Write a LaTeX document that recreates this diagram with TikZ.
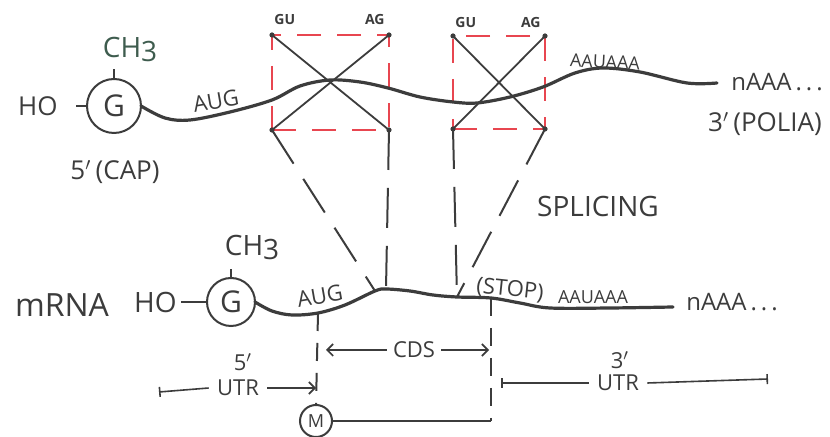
\documentclass[tikz,border=0pt]{standalone}
\usepackage{fontspec}
\setmainfont{Open Sans}
\usepackage{xcolor}
\usetikzlibrary{arrows.meta, positioning}

\definecolor{ink}{HTML}{3C3C3C}
\definecolor{cutred}{HTML}{E84650}
\definecolor{methyl}{HTML}{3E5C4E}

\begin{document}
\begin{tikzpicture}[
  x=0.5pt, y=-0.5pt,
  every node/.style={font=\fontsize{13}{15}\selectfont, text=ink, inner sep=1pt},
  lblbig/.style={font=\fontsize{14}{16}\selectfont},
  lblmid/.style={font=\fontsize{11}{13}\selectfont},
  lblsmall/.style={font=\fontsize{9}{11}\selectfont},
  lblwee/.style={font=\bfseries\fontsize{7}{9}\selectfont},
  gcirc/.style={draw=ink, circle, line width=1pt, inner sep=0pt, outer sep=0pt,
                font=\fontsize{15}{17}\selectfont},
  strand/.style={draw=ink, line width=1.6pt, line cap=round},
  tickline/.style={draw=ink, line width=1pt},
  splicebox/.style={draw=cutred, line width=1pt, dash pattern=on 12pt off 8pt,
                    rectangle, inner sep=0pt, outer sep=0pt},
  xline/.style={draw=ink, line width=0.9pt},
  link/.style={draw=ink, line width=1pt, dash pattern=on 20pt off 9pt},
  guide/.style={draw=ink, line width=1pt, dash pattern=on 9pt off 6pt},
  dimline/.style={draw=ink, line width=0.8pt},
  arr/.style={-{Straight Barb[length=3pt]}},
]
\fill[white] (0,0) rectangle (830,437);
\useasboundingbox (0,0) rectangle (830,437);

% pre-mRNA
\node[gcirc, minimum size=27pt] (gtop) at (114,106) {G};
\node[left=13.5pt of gtop] (hotop) {HO};
\node[lblbig, text=methyl] (ch3top) at (130,50) {CH\raisebox{-2pt}{3}};
\node (captop) at (115,172) {5$'$\,(CAP)};
\node[lblmid, rotate=10] (augtop) at (216,101) {AUG};

\node[splicebox, minimum width=58.5pt, minimum height=47.5pt] (intr1) at (330.5,82.5) {};
\node[splicebox, minimum width=46pt, minimum height=46.5pt] (intr2) at (499,82.5) {};
\node[lblwee, above right=4pt and 0pt of intr1.north west] (gu1) {GU};
\node[lblwee, above left=4pt and 1pt of intr1.north east] (ag1) {AG};
\node[lblwee, above right=3pt and 0pt of intr2.north west] (gu2) {GU};
\node[lblwee, above left=3pt and 1pt of intr2.north east] (ag2) {AG};

\node[lblsmall, rotate=-3] (polytop) at (605,62) {AAUAAA};
\node[font=\fontsize{12}{14}\selectfont] (naaatop) at (777,82) {nAAA\,.\,.\,.};
\node (polya) at (765,124) {3$'$\,(POLIA)};
\node[lblbig] (splicing) at (598,207) {SPLICING};

% mature mRNA
\node[font=\fontsize{16}{18}\selectfont] (mrna) at (62,305) {mRNA};
\node[gcirc, minimum size=24pt] (gbot) at (231,302) {G};
\node[lblbig, left=14pt of gbot] (hobot) {HO};
\node[lblbig] (ch3bot) at (252,248) {CH\raisebox{-2pt}{3}};
\node[lblmid, rotate=10] (augbot) at (320,296) {AUG};
\node[lblmid, rotate=-6] (stop) at (510,290) {(STOP)};
\node[lblsmall] (polybot) at (593,297) {AAUAAA};
\node[font=\fontsize{12}{14}\selectfont] (naaabot) at (732,302) {nAAA\,.\,.\,.};
\node[gcirc, minimum size=16pt, font=\fontsize{9}{10}\selectfont] (mcap) at (316,421) {M};

\coordinate (aug2) at (318,313);
\coordinate (j1) at (375,291);
\coordinate (j2) at (386,289);
\coordinate (j3) at (457,297);
\coordinate (stopc) at (491,298);
\coordinate (mcorner) at (stopc |- mcap.east);

\node[lblmid, inner sep=3pt] (cds) at (414,350) {CDS};
\node[lblmid] (prime5) at (243,362) {5$'$};
\node[lblmid, inner sep=4pt] (utr5) at (238,388) {UTR};
\node[lblmid] (prime3) at (620,360) {3$'$};
\node[lblmid, inner sep=4pt] (utr3) at (618,383) {UTR};
\coordinate (u5end) at (159,392);
\coordinate (u3end) at (768,379);

% top strand
\draw[tickline, shorten <=8pt] (hotop) -- (gtop);
\draw[tickline, shorten >=2pt] (gtop.north) -- (gtop.north |- ch3top.south);
\draw[strand] plot[smooth, tension=0.55] coordinates {(gtop.east) (165,118) (190,120)
  (230,112) (272,100) (300,86) (330,80) (360,82) (388,88) (420,97) (453,102) (477,103)
  (510,97) (543,87) (575,73) (603,68) (640,72) (687,83) (717,83)};

\draw[xline] (intr1.north west) -- (intr1.south east);
\draw[xline] (intr1.north east) -- (intr1.south west);
\draw[xline] (intr2.north west) -- (intr2.south east);
\draw[xline] (intr2.north east) -- (intr2.south west);
\foreach \c in {intr1, intr2}
  \foreach \a in {north west, north east, south west, south east}
    \fill[ink] (\c.\a) circle (1.3pt);

\draw[link] (intr1.south west) -- (j1);
\draw[link] (intr1.south east) -- (j2);
\draw[link] (intr2.south west) -- (j3);
\draw[link] (intr2.south east) -- (j3);

% bottom strand
\draw[tickline, shorten <=1pt] (hobot) -- (gbot);
\draw[tickline, shorten >=3pt] (gbot.north) -- (gbot.north |- ch3bot.south);
\draw[strand] plot[smooth, tension=0.55] coordinates {(gbot.east) (272,311) (292,315)
  (aug2) (345,305) (j1) (j2) (410,291) (433,295) (j3) (stopc) (520,303) (550,308)
  (610,308) (673,307)};

\draw[guide] (aug2) -- (mcap.north);
\draw[guide] (stopc) -- (mcorner);
\draw[tickline] (mcorner) -- (mcap.east);

\draw[dimline, arr, shorten >=4pt] (cds.west) -- (cds.west -| aug2);
\draw[dimline, arr, shorten >=1pt] (cds.east) -- (cds.east -| stopc);
\draw[dimline, {Bar[width=5pt]}-] (u5end) -- (utr5.west);
\draw[dimline, arr, shorten >=1pt] (utr5.east) -- (utr5.east -| aug2);
\draw[dimline, {Bar[width=5pt]}-, shorten <=5pt] (utr3.west -| stopc) -- (utr3.west);
\draw[dimline, -{Bar[width=5pt]}] (utr3.east) -- (u3end);
\end{tikzpicture}
\end{document}
